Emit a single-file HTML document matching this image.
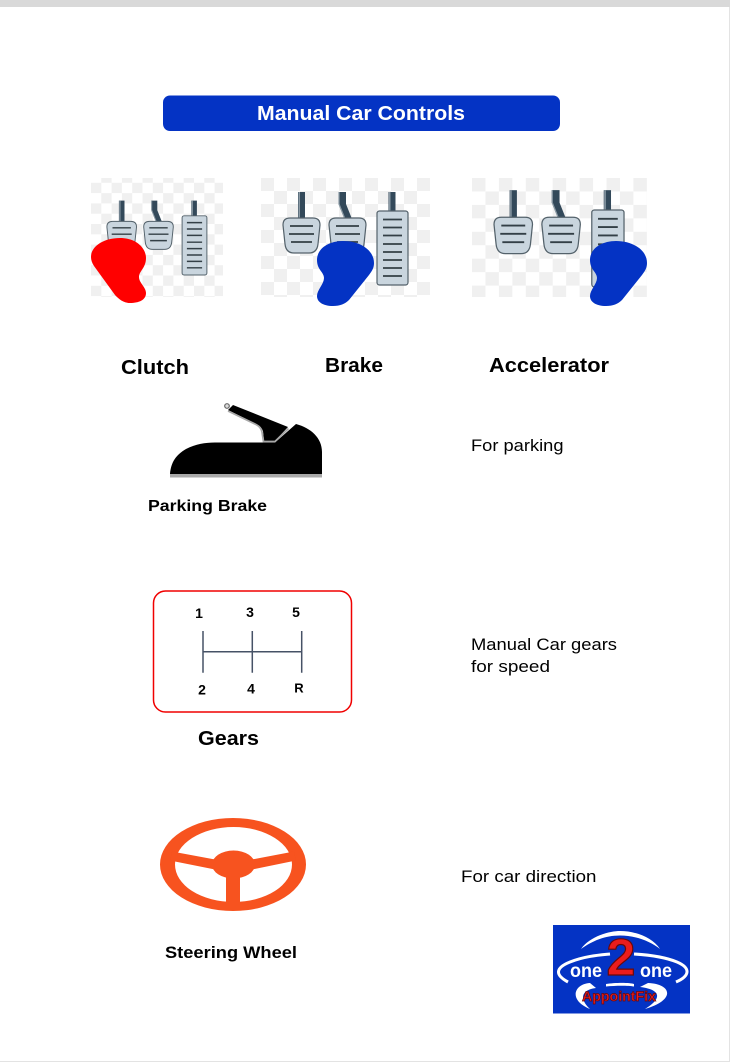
<!DOCTYPE html>
<html>
<head>
<meta charset="utf-8">
<style>
html,body{margin:0;padding:0;background:#fff;width:730px;height:1062px;overflow:hidden}
svg{display:block;position:absolute;left:0;top:0}
text{font-family:"Liberation Sans",sans-serif}
</style>
</head>
<body>
<svg width="730" height="1062" viewBox="0 0 730 1062" xmlns="http://www.w3.org/2000/svg">
<defs>
<pattern id="c1" x="91" y="172.5" width="20.6" height="20.6" patternUnits="userSpaceOnUse">
<rect x="10.3" y="0" width="10.3" height="10.3" fill="#f0f0f0"/><rect x="0" y="10.3" width="10.3" height="10.3" fill="#f0f0f0"/>
</pattern>
<pattern id="c2" x="261" y="178" width="26" height="26" patternUnits="userSpaceOnUse">
<rect x="0" y="0" width="13" height="13" fill="#f0f0f0"/><rect x="13" y="13" width="13" height="13" fill="#f0f0f0"/>
</pattern>
<pattern id="c3" x="472" y="178" width="26.9" height="26.9" patternUnits="userSpaceOnUse">
<rect x="0" y="0" width="13.45" height="13.45" fill="#f0f0f0"/><rect x="13.45" y="13.45" width="13.45" height="13.45" fill="#f0f0f0"/>
</pattern>
<g id="pedals">
<rect x="298" y="192" width="7" height="27" fill="#33495a"/>
<rect x="298.500" y="192" width="1.500" height="27" fill="#8b9aa5"/>
<path d="M338.500 192h7.500v12l6 15h-7.500l-6-15z" fill="#33495a"/>
<path d="M339 192v12l6 15" fill="none" stroke="#8b9aa5" stroke-width="1.200"/>
<rect x="388.500" y="192" width="7" height="20" fill="#33495a"/>
<rect x="389" y="192" width="1.500" height="20" fill="#8b9aa5"/>
<path d="M290 218H313Q320 218 320 225L318 244Q317 253 309 253H294Q286 253 285 244L283 225Q283 218 290 218Z" fill="#c9d5de" stroke="#54626b" stroke-width="1.200"/>
<path d="M336 218H359Q366 218 366 225L364 244Q363 253 355 253H340Q332 253 331 244L329 225Q329 218 336 218Z" fill="#c9d5de" stroke="#54626b" stroke-width="1.200"/>
<rect x="377" y="211" width="31" height="74" rx="2.500" fill="#c9d5de" stroke="#54626b" stroke-width="1.200"/>
<path d="M290 226h23M289 234h25M291 242h21M336 226h23M335 234h25M337 242h21M383 219.500h19M383 227.500h19M383 235.500h19M383 244h19M383 252h19M383 260h19M383 268h19M383 276h19" stroke="#333f46" stroke-width="1.800" fill="none"/>
</g>
</defs>

<rect x="0" y="0" width="730" height="1062" fill="#fff"/>
<rect x="0" y="0" width="730" height="7" fill="#d9d9d9"/>
<rect x="729" y="7" width="1" height="1055" fill="#e3e3e3"/>
<rect x="0" y="1061" width="730" height="1" fill="#e3e3e3"/>

<g>
<rect x="163" y="95.500" width="397" height="35.500" rx="7" fill="#0433c4"/>
<text x="257" y="120" font-size="20" font-weight="700" fill="#fff" textLength="208" lengthAdjust="spacingAndGlyphs">Manual Car Controls</text>
</g>

<g>
<rect x="91" y="178" width="132" height="119" fill="url(#c1)"/>
<use href="#pedals" transform="translate(-119.500 47) scale(.8)"/>
<path d="M120 238C136 238 146 248 146 258C146 268 139 271 139 277C139 283 146 287 146 293C146 300 139 303 130 303C122 303 117 297 115 295L94 266C92 263 91 260 91 257C91 246 104 238 120 238Z" fill="#ff0000"/>
</g>

<g>
<rect x="261" y="178" width="169" height="119" fill="url(#c2)"/>
<use href="#pedals"/>
<path d="M343 241C360 241 374 250 374 263C374 268 372 271 369 275L349 300C345 304 340 306 333 306C323 306 317 302 317 296C317 290 324 284 324 278C324 272 317 270 317 260C317 249 328 241 343 241Z" fill="#0433c4"/>
</g>

<g>
<rect x="472" y="178" width="175" height="119" fill="url(#c3)"/>
<use href="#pedals" transform="translate(199.700 -9.500) scale(1.040)"/>
<path transform="translate(273 0)" d="M343 241C360 241 374 250 374 263C374 268 372 271 369 275L349 300C345 304 340 306 333 306C323 306 317 302 317 296C317 290 324 284 324 278C324 272 317 270 317 260C317 249 328 241 343 241Z" fill="#0433c4"/>
</g>

<text x="121" y="374" font-size="20" font-weight="700" fill="#000" textLength="68" lengthAdjust="spacingAndGlyphs">Clutch</text>
<text x="325" y="372" font-size="20" font-weight="700" fill="#000" textLength="58" lengthAdjust="spacingAndGlyphs">Brake</text>
<text x="489" y="372" font-size="20" font-weight="700" fill="#000" textLength="120" lengthAdjust="spacingAndGlyphs">Accelerator</text>

<g>
<rect x="170" y="474" width="152" height="3.500" fill="#a9a9a9"/>
<path d="M170 474C171 462 176 455 186 449C196 444 205 442.500 215 442.500L275 442.500L296 424C311 428 322 438 322 452L322 474Z" fill="#000"/>
<path d="M233 405L288 427L275 441L264 441L263 431Q261 426 256 424L228 410Z" fill="#000"/>
<path d="M228 411L256 424.500Q261 427 262 432L263.500 441.500L275 441.500L288.500 428.500" fill="none" stroke="#a8a8a8" stroke-width="1.800"/>
<circle cx="227" cy="406" r="2.300" fill="#ddd" stroke="#666" stroke-width="1.200"/>
</g>
<text x="148" y="511" font-size="16" font-weight="700" fill="#000" textLength="119" lengthAdjust="spacingAndGlyphs">Parking Brake</text>
<text x="471" y="451" font-size="17" fill="#000" textLength="92.500" lengthAdjust="spacingAndGlyphs">For parking</text>

<g>
<rect x="153.500" y="591" width="198" height="121" rx="12" fill="#fff" stroke="#f00000" stroke-width="1.500"/>
<path d="M203 631V672.700M252.300 631V672.700M301.700 631V672.700M203 651.700H301.700" stroke="#465266" stroke-width="1.500" fill="none"/>
<g font-size="14" font-weight="700" fill="#000" text-anchor="middle">
<text x="199" y="618">1</text>
<text x="250" y="617">3</text>
<text x="296" y="617">5</text>
<text x="202" y="694.500">2</text>
<text x="251" y="693.500">4</text>
<text x="299" y="692.500" font-size="13">R</text>
</g>
</g>
<text x="198" y="745" font-size="20" font-weight="700" fill="#000" textLength="61" lengthAdjust="spacingAndGlyphs">Gears</text>
<text x="471" y="650" font-size="17" fill="#000" textLength="146" lengthAdjust="spacingAndGlyphs">Manual Car gears</text>
<text x="471" y="672" font-size="17" fill="#000" textLength="79" lengthAdjust="spacingAndGlyphs">for speed</text>

<g fill="#f7531f">
<path fill-rule="evenodd" d="M160 864.500a73 46.500 0 1 0 146 0a73 46.500 0 1 0 -146 0ZM175 864.500a58.500 37.500 0 1 1 117 0a58.500 37.500 0 1 1 -117 0Z"/>
<ellipse cx="233.500" cy="864.500" rx="21.500" ry="14"/>
<path d="M172 851.500L215 859.500V869.500L170 860.500ZM294 851.500L252 859.500V869.500L296 860.500ZM226 870H240V906H226Z"/>
</g>
<text x="165" y="958" font-size="17" font-weight="700" fill="#000" textLength="132" lengthAdjust="spacingAndGlyphs">Steering Wheel</text>
<text x="461" y="882" font-size="17" fill="#000" textLength="135.500" lengthAdjust="spacingAndGlyphs">For car direction</text>

<g>
<rect x="553" y="925" width="137" height="88.500" fill="#0433c4"/>
<path d="M581 949C590 936 610 931 620 931C635 931 652 937 660 949C650 941 635 935.500 620 935.500C605 935.500 592 941 581 949Z" fill="#fff"/>
<path d="M568 982C555 975 555 968 570 962C585 956 600 955 610 954M634 954C650 955 665 957 677 962C691 968 690 976 676 982" fill="none" stroke="#fff" stroke-width="3"/>
<path d="M590 983C574 984 568 1000 590 1009C580 1000 580 990 596 988ZM648 983C672 984 676 1000 645 1009C660 1000 664 990 640 987ZM606 984C615 982.500 630 982.500 634 984L634 986.500C628 985.500 616 985.500 606 986.500Z" fill="#fff"/>
<text x="570" y="977" font-size="19" font-weight="700" fill="#fff" textLength="32" lengthAdjust="spacingAndGlyphs">one</text>
<text x="640" y="977" font-size="19" font-weight="700" fill="#fff" textLength="32" lengthAdjust="spacingAndGlyphs">one</text>
<text x="621" y="975" font-size="52" font-weight="700" fill="#ec1c1c" stroke="#6a0808" stroke-width="1.200" text-anchor="middle">2</text>
<text x="582" y="1001" font-size="14" font-weight="700" fill="#ec1c1c" stroke="#6a0808" stroke-width=".700" textLength="74" lengthAdjust="spacingAndGlyphs">AppointFix</text>
</g>
</svg>
</body>
</html>
